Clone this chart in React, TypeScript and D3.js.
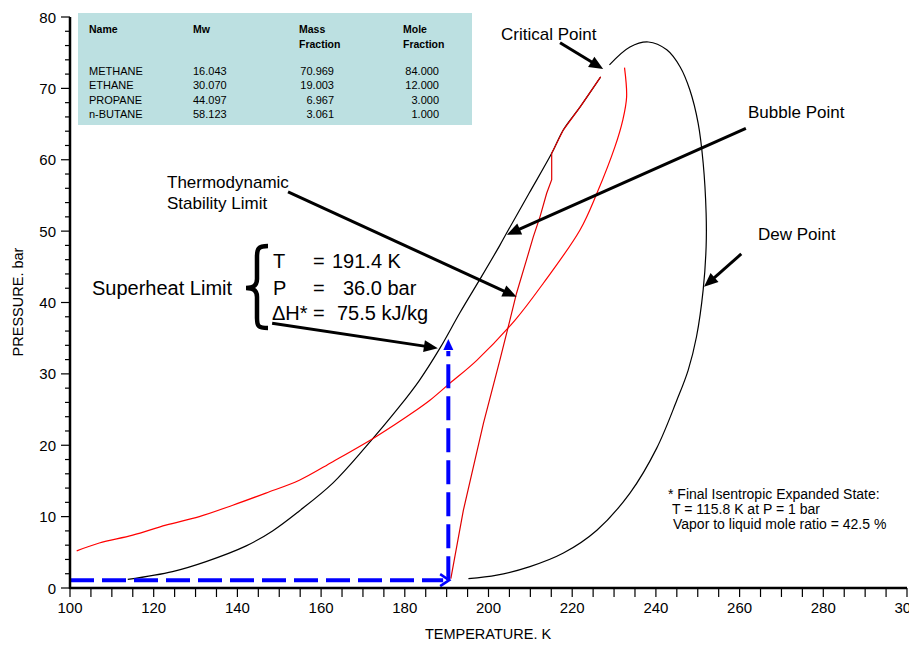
import React from 'react';
import * as d3 from 'd3';

// axis ticks
const tempTicks = [100, 120, 140, 160, 180, 200, 220, 240, 260, 280, 300];
const pressureTicks = [0, 10, 20, 30, 40, 50, 60, 70, 80];

// phase envelope (black) as [T (K), P (bar)]
const envelopeBubble: [number, number][] = [
  [113.8, 1.2], [124.5, 2.3], [132.5, 3.7], [142.1, 5.9], [148.4, 8.0], [154.8, 10.8],
  [162.8, 14.7], [170.7, 19.8], [178.7, 25.4], [183.5, 29.1], [188.4, 33.6], [193.2, 38.6],
  [198.4, 43.7], [202.7, 48.0], [204.3, 49.7], [209.7, 55.3], [215.1, 60.9],
  [217.9, 64.2], [221.9, 67.4], [226.8, 71.6],
];
const envelopeDew: [number, number][] = [
  [228.9, 73.3], [233.8, 75.8], [238.2, 76.5], [242.6, 75.4], [245.8, 73.0], [248.1, 69.8],
  [250.1, 65.1], [251.3, 59.5], [252.0, 52.5], [252.0, 47.8], [251.3, 41.8], [249.7, 35.2],
  [247.7, 30.5], [245.0, 26.3], [240.2, 19.6], [233.8, 13.3], [225.9, 8.1], [217.9, 4.9],
  [209.9, 3.0], [202.0, 1.8], [195.2, 1.3],
];

// red curves
const redLow: [number, number][] = [
  [101.6, 5.2], [107.0, 6.3], [115.0, 7.4], [122.9, 8.8], [130.9, 10.0], [138.9, 11.6],
  [146.8, 13.3], [154.8, 15.1], [162.8, 17.7], [173.1, 21.2], [182.7, 24.9], [186.0, 26.3],
  [190.8, 28.7], [197.2, 31.9], [206.3, 37.5], [213.1, 42.7], [221.9, 50.2], [225.9, 55.3],
  [230.2, 61.8], [232.1, 65.6], [233.0, 68.8], [232.5, 72.9],
];
const stabilityLimit: [number, number][] = [
  [191.0, 1.3], [194.0, 10.9], [196.4, 17.0], [198.8, 23.1], [202.7, 31.9], [205.1, 37.5],
  [206.7, 41.3], [209.1, 46.0], [210.7, 49.2], [212.3, 52.0], [213.9, 55.3], [215.1, 57.2],
  [215.1, 60.9], [217.9, 64.2], [221.9, 67.4], [226.8, 71.6],
];

// superheat path (blue dashed)
const expansionPath: [number, number][] = [[100, 1.1], [190.6, 1.1]];
const superheatRise: [number, number][] = [[190.4, 1.1], [190.4, 34.9]];

// composition table
const compNames = ['METHANE', 'ETHANE', 'PROPANE', 'n-BUTANE'];
const molWeights = ['16.043', '30.070', '44.097', '58.123'];
const massFractions = ['70.969', '19.003', '6.967', '3.061'];
const moleFractions = ['84.000', '12.000', '3.000', '1.000'];

const FONT = "Arial, 'Liberation Sans', sans-serif";

const W = 909;
const H = 650;

const Arrow = ({ x1, y1, x2, y2, color = '#000', width = 3, head = 14, half = 6 }:
  { x1: number; y1: number; x2: number; y2: number; color?: string; width?: number; head?: number; half?: number }) => {
  const a = Math.atan2(y2 - y1, x2 - x1);
  const bx = x2 - head * Math.cos(a);
  const by = y2 - head * Math.sin(a);
  const px = -Math.sin(a) * half;
  const py = Math.cos(a) * half;
  return (
    <g>
      <line x1={x1} y1={y1} x2={bx + Math.cos(a) * 2} y2={by + Math.sin(a) * 2} stroke={color} strokeWidth={width} />
      <polygon points={`${x2},${y2} ${bx + px},${by + py} ${bx - px},${by - py}`} fill={color} />
    </g>
  );
};

export default function App() {
  const x = d3.scaleLinear().domain([100, 300]).range([70, 907]);
  const y = d3.scaleLinear().domain([0, 80]).range([588, 17]);

  const smooth = d3.line<[number, number]>().x(d => x(d[0])).y(d => y(d[1])).curve(d3.curveCatmullRom.alpha(0.5));
  const straight = d3.line<[number, number]>().x(d => x(d[0])).y(d => y(d[1]));

  const minorT = d3.range(100, 301, 5);
  const minorP = d3.range(0, 81, 2).filter(v => v % 10 !== 0);

  // annotation arrows in data units: [fromT, fromP, toT, toP]
  const notes = {
    critical: [217.1, 76.4, 227.4, 72.7],
    bubble: [261.5, 64.4, 204.4, 49.5],
    dew: [260.4, 46.8, 251.5, 42.2],
    stability: [152.1, 55.5, 206.7, 40.8],
    superheat: [148.3, 37.1, 187.9, 33.6],
  };

  const hx1 = x(expansionPath[0][0]);
  const hx2 = x(expansionPath[1][0]);
  const hy = y(expansionPath[0][1]);
  const vx = x(superheatRise[0][0]);
  const vy1 = y(superheatRise[0][1]);
  const vy2 = y(superheatRise[1][1]);

  const rowY = (i: number) => 75 + i * 14.3;

  return (
    <svg width={W} height={H} style={{ display: 'block', background: '#fff' }} fontFamily={FONT}>
      <style>{`body{margin:0}`}</style>

      {/* composition table */}
      <rect x={78} y={13} width={394} height={112} fill="#bce0e1" />
      <g fill="#000">
        <g fontWeight="bold" fontSize={10.5}>
          <text x={89} y={33}>Name</text>
          <text x={193} y={33}>Mw</text>
          <text x={299} y={33}>Mass</text>
          <text x={299} y={48}>Fraction</text>
          <text x={403} y={33}>Mole</text>
          <text x={403} y={48}>Fraction</text>
        </g>
        <g fontSize={11}>
          {compNames.map((n, i) => (
            <g key={n}>
              <text x={89} y={rowY(i)}>{n}</text>
              <text x={193} y={rowY(i)}>{molWeights[i]}</text>
              <text x={334} y={rowY(i)} textAnchor="end">{massFractions[i]}</text>
              <text x={439} y={rowY(i)} textAnchor="end">{moleFractions[i]}</text>
            </g>
          ))}
        </g>
      </g>

      {/* curves */}
      <path d={smooth(envelopeBubble) ?? ''} fill="none" stroke="#000" strokeWidth={1.2} />
      <path d={smooth(envelopeDew) ?? ''} fill="none" stroke="#000" strokeWidth={1.2} />
      <path d={smooth(redLow) ?? ''} fill="none" stroke="#ff0000" strokeWidth={1.2} />
      <path d={straight(stabilityLimit) ?? ''} fill="none" stroke="#e00000" strokeWidth={1.2} />

      {/* blue superheat path */}
      <line x1={hx1} y1={hy} x2={hx2 - 6} y2={hy} stroke="#0000ff" strokeWidth={4} strokeDasharray="24,8" />
      <polyline points={`${hx2 - 9},${hy - 6} ${hx2},${hy} ${hx2 - 9},${hy + 6}`} fill="none" stroke="#0000ff" strokeWidth={2.5} />
      <line x1={vx} y1={vy1} x2={vx} y2={vy2 + 12} stroke="#0000ff" strokeWidth={4} strokeDasharray="24,8" />
      <polygon points={`${vx},${vy2} ${vx - 5},${vy2 + 11} ${vx + 5},${vy2 + 11}`} fill="#0000ff" />

      {/* axes */}
      <g stroke="#000">
        <line x1={x(100)} y1={y(0)} x2={x(300)} y2={y(0)} strokeWidth={2.5} />
        <line x1={x(100)} y1={y(0) + 1} x2={x(100)} y2={y(80)} strokeWidth={2.5} />
        {minorT.map(t => (
          <line key={'tt' + t} x1={x(t)} x2={x(t)} y1={y(0)} y2={y(0) + 9} strokeWidth={1.2} />
        ))}
        {minorP.map(p => (
          <line key={'pm' + p} x1={x(100) - 5} x2={x(100)} y1={y(p)} y2={y(p)} strokeWidth={1.2} />
        ))}
        {pressureTicks.map(p => (
          <line key={'pt' + p} x1={x(100) - 9} x2={x(100)} y1={y(p)} y2={y(p)} strokeWidth={1.2} />
        ))}
      </g>
      <g fontSize={15} fill="#000">
        {tempTicks.map(t => (
          <text key={'tl' + t} x={x(t)} y={613} textAnchor="middle">{t}</text>
        ))}
        {pressureTicks.map(p => (
          <text key={'pl' + p} x={56} y={y(p) + 5.5} textAnchor="end">{p}</text>
        ))}
      </g>
      <g fontSize={14.5} fill="#000">
        <text x={488} y={639} textAnchor="middle">TEMPERATURE. K</text>
        <text transform="translate(23,302) rotate(-90)" textAnchor="middle">PRESSURE. bar</text>
      </g>

      {/* annotations */}
      <g fontSize={17} fill="#000">
        <text x={501} y={40}>Critical Point</text>
        <text x={748} y={118}>Bubble Point</text>
        <text x={758} y={240}>Dew Point</text>
        <text x={167} y={188}>Thermodynamic</text>
        <text x={167} y={209}>Stability Limit</text>
      </g>
      {Object.entries(notes).map(([k, v]) => (
        <Arrow key={k} x1={x(v[0])} y1={y(v[1])} x2={x(v[2])} y2={y(v[3])} />
      ))}

      <g fontSize={20} fill="#000">
        <text x={92} y={295}>Superheat Limit</text>
        <text x={273} y={268}>T</text>
        <text x={313} y={268}>=</text>
        <text x={332} y={268}>191.4 K</text>
        <text x={273} y={295}>P</text>
        <text x={313} y={295}>=</text>
        <text x={343} y={295}>36.0 bar</text>
        <text x={272} y={320}>ΔH*</text>
        <text x={313} y={320}>=</text>
        <text x={337} y={320}>75.5 kJ/kg</text>
      </g>
      <path d="M 268 246 C 258 246, 257 249, 257 257 L 257 279 C 257 285, 254 288, 246 288 C 254 288, 257 291, 257 297 L 257 318 C 257 326, 258 328, 268 328"
        fill="none" stroke="#000" strokeWidth={4.5} />

      <g fontSize={14} fill="#000">
        <text x={668} y={499}>* Final Isentropic Expanded State:</text>
        <text x={672} y={514}>T = 115.8 K at P = 1 bar</text>
        <text x={673} y={529}>Vapor to liquid mole ratio = 42.5 %</text>
      </g>
    </svg>
  );
}
